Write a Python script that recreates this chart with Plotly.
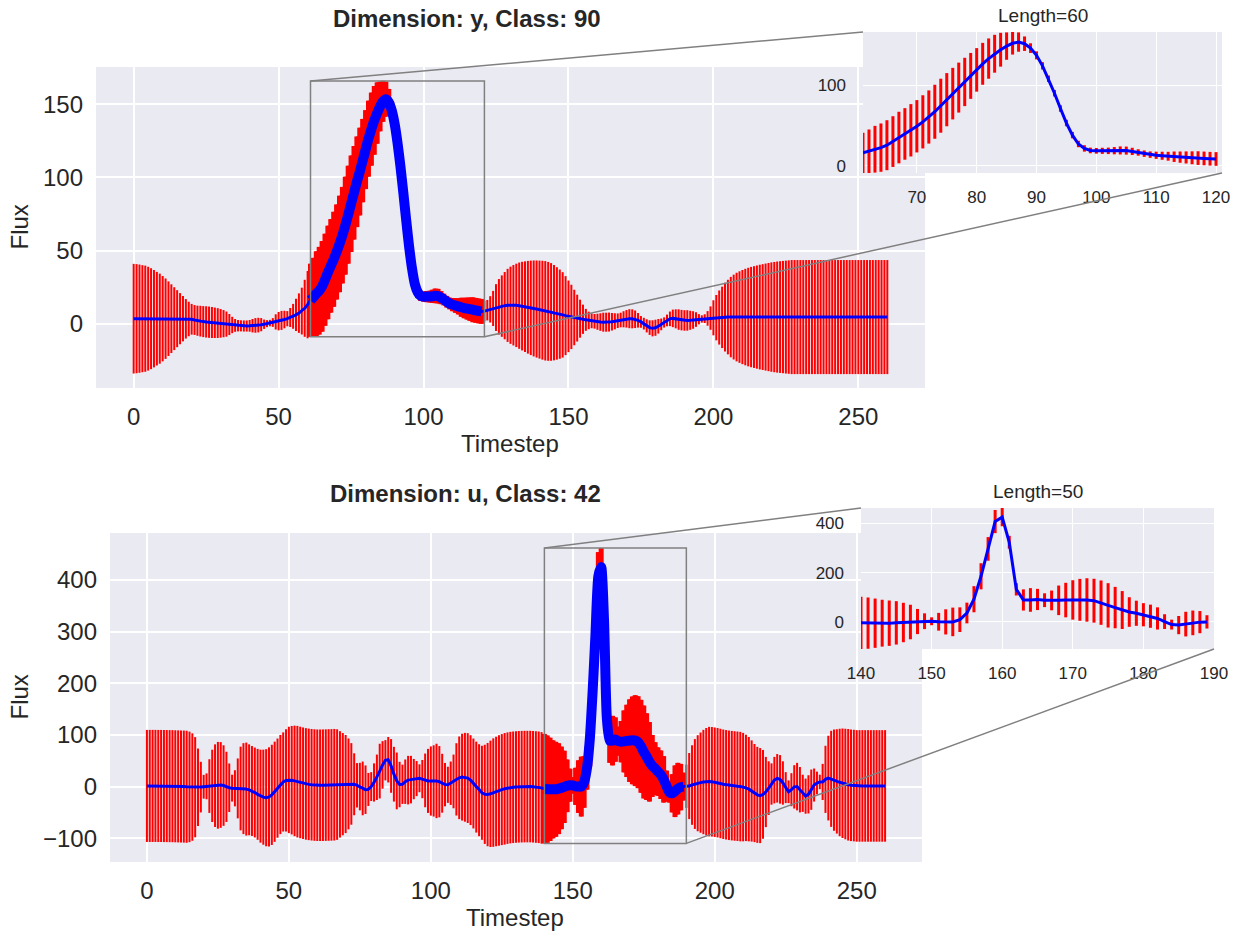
import plotly.graph_objects as go

W, H = 1247, 934
FONT = "Liberation Sans, Arial, sans-serif"
TXT = "#262626"
BG = "#EAEAF2"

timesteps = list(range(261))

flux_y = [
    3.4, 3.4, 3.4, 3.4, 3.4, 3.4, 3.4, 3.4, 3.4, 3.4, 3.4, 3.4, 3.4, 3.4, 3.4, 3.4, 3.4, 3.4, 3.3, 3.2,
    3.0, 2.5, 2.0, 1.7, 1.4, 1.2, 1.0, 0.8, 0.6, 0.4, 0.2, 0.0, -0.3, -0.6, -0.9, -1.2, -1.4, -1.5, -1.6, -1.6,
    -1.5, -1.4, -1.2, -1.0, -0.7, -0.4, 0.0, 0.4, 0.8, 1.2, 1.7, 2.2, 2.8, 3.4, 4.2, 5.0, 6.0, 7.2, 8.6, 10.5,
    13.0,
    16, 18, 20.5, 22.5, 25.5, 30, 35, 39.5, 44, 49, 54.5, 60.5, 67, 74.5, 82, 89.5, 97, 104, 111.5, 119,
    126.5, 133, 139, 144, 148.5, 152, 153.5, 151.5, 146, 137, 124, 108, 90, 71, 53, 38, 27, 21.5, 19, 18.5,
    18.5, 18.5, 18.7, 19.0, 18.8, 17.8, 16.5, 15, 13.8, 13, 12.4, 11.8, 11.2, 10.7, 10.3, 9.9, 9.5, 9.1, 8.7, 8.4,
    8.6, 9.2, 9.8, 10.4, 11, 11.5, 12, 12.3, 12.5, 12.6, 12.6, 12.5, 12.3, 12, 11.6, 11.2, 10.8, 10.4, 10, 9.6,
    9.2, 8.8, 8.4, 8, 7.5, 7, 6.5, 6, 5.5, 5, 4.6, 4.2, 3.8, 3.4, 3, 2.6, 2.2, 1.9, 1.6, 1.3,
    1.1, 1.0, 1.0, 1.1, 1.3, 1.6, 2.0, 2.5, 3.0, 3.3, 3.4, 3.3, 3.0, 2.3, 1.2, 0, -1.5, -2.7, -3.2, -2.8,
    -1.8, -0.5, 0.8, 2.2, 3.3, 3.6, 3.3, 2.8, 2.4, 2.2, 2.2, 2.3, 2.5, 2.8, 3.0, 3.2, 3.4, 3.6, 3.8, 4.0,
    4.1, 4.2, 4.3, 4.4, 4.5, 4.5, 4.5, 4.5, 4.5, 4.5, 4.5, 4.5, 4.5, 4.5, 4.5, 4.5, 4.5, 4.5, 4.5, 4.5,
    4.5, 4.5, 4.5, 4.5, 4.5, 4.5, 4.5, 4.5, 4.5, 4.5, 4.5, 4.5, 4.5, 4.5, 4.5, 4.5, 4.5, 4.5, 4.5, 4.5,
    4.5, 4.5, 4.5, 4.5, 4.5, 4.5, 4.5, 4.5, 4.5, 4.5, 4.5, 4.5, 4.5, 4.5, 4.5, 4.5, 4.5, 4.5, 4.5, 4.5,
]

err_y = [
    37.5, 37.3, 37.0, 36.6, 36.3, 35.5, 34.5, 33.3, 32.0, 30.8, 29.2, 27.5, 25.5, 23.5, 21.5, 19.5, 17.5, 15.5, 13.5, 11.8,
    10.5, 10.2, 10.3, 10.5, 10.6, 10.7, 10.7, 10.6, 10.4, 10.2, 9.8, 9.3, 8.6, 7.2, 5.6, 4.4, 3.9, 3.8, 3.8, 3.8,
    4.0, 4.6, 5.0, 5.0, 4.5, 3.2, 2.4, 2.2, 3.0, 5.2, 6.3, 6.5, 6.0, 5.2, 6.5, 8.5, 11.0, 13.5, 16.0, 19.5,
    23.0,
    25, 27, 29, 30, 31, 31.5, 32, 32, 32.5, 32.5, 33, 33, 33.5, 33.5, 33, 32, 31, 30, 28.5, 27,
    26, 25, 23.5, 21, 17, 14, 12, 9, 6, 5, 4.5, 4, 4, 4, 4, 4, 4, 4, 3.5, 3.5,
    3.8, 4, 4.5, 5, 5, 4.5, 4, 4, 4, 4.5, 5, 5.5, 6.5, 7, 7.5, 8, 8.5, 8.5, 8.5, 8.5,
    7, 7, 9, 12, 16, 19, 21, 23, 25, 26.4, 27.5, 28.5, 29.5, 30.3, 31, 31.7, 32.3, 32.8, 33.2, 33.5,
    33.8, 34, 33.8, 33.4, 32.6, 31.6, 30.5, 29.2, 27, 24.5, 22, 19, 16, 13, 10, 7.5, 6, 5, 5, 5.5,
    6, 6.5, 6.5, 6.5, 6, 5.5, 5, 5, 5.5, 6, 6.5, 6.5, 6, 5, 4, 4, 4.5, 5, 5.5, 5.5,
    5, 4, 3.5, 4, 5, 6, 6.5, 7, 7, 7, 7, 6.5, 6, 5, 3.5, 2.5, 3, 5, 8, 12,
    15.5, 18.5, 21, 23.5, 25.5, 27.5, 29, 30.3, 31.3, 32.2, 33, 33.7, 34.3, 34.8, 35.3, 35.8, 36.2, 36.6, 37, 37.4,
    37.7, 38, 38.2, 38.4, 38.6, 38.8, 39, 39, 39, 39, 39, 39, 39, 39, 39, 39, 39, 39, 39, 39,
    39, 39, 39, 39, 39, 39, 39, 39, 39, 39, 39, 39, 39, 39, 39, 39, 39, 39, 39, 39,
]

flux_u = [
    1.3, 1.3, 1.3, 1.3, 1.2, 1.2, 1.1, 1.0, 0.9, 0.8, 0.6, 0.4, 0.2, 0.0, -0.3, -0.6, -0.9, -1.2, -1.3, -1.0,
    -0.3, 0.5, 1.0, 1.4, 1.8, 2.5, 3.2, 2.0, -0.5, -2.2, -3.0, -3.3, -3.5, -3.7, -3.9, -4.8, -6.2, -8.5, -11.5, -15,
    -18.5, -20.5, -21.5, -20, -16, -10, -3, 4, 9, 12, 12.9, 12.4, 11, 9.5, 8, 6.5, 5.2, 4.3, 3.6, 3.0,
    2.6, 2.6, 2.7, 2.9, 3.1, 3.3, 3.6, 3.9, 4.3, 4.7, 5.0, 5.2, 5.2, 4.5, 2.5, 0, -3.5, -6, -5.5, 0,
    8, 18, 30, 42, 51, 52, 40, 24, 11, 4, 4.5, 9.5, 12.5, 13.5, 14.5, 15.5, 16.1, 14.5, 12, 11,
    10.8, 11, 11, 9.5, 6.5, 3.8, 3.5, 6.5, 10, 14, 17, 18.3, 18, 16.5, 12.5, 6, -1, -7, -12, -15,
    -15.5, -14, -11.6, -9.5, -7.5, -5.8, -4.3, -3, -2, -1.3, -0.8, -0.4, -0.2, 0, 0, 0, -0.3, -0.8, -1.3, -2.5,
    -4, -5, -5.3, -5.3, -5.3, -4, -2.5, -0.5, 1.5, 2.7, 2.5, 0.5, 0, 0, 9, 36, 92, 185, 296, 407,
    425, 323, 132, 89, 89, 91, 88, 87, 87.5, 88.5, 89, 89.5, 89, 86, 78, 67, 58, 48, 40, 35,
    29, 23, 14, 1, -11, -13, -9, -4, -1, 0,
    0.5, 1, 3, 5, 6.5, 7.7, 8.8, 9.5, 9.7, 9.3,
    8.5, 7.5, 6, 4.5, 3.5, 2.5, 1.8, 1.2, 0.6, 0, -1, -2.5, -5, -8.5, -12.5, -16, -17.4, -15, -10.5, -3,
    5, 12.5, 16, 14, 7, -2, -10, -6, -0.5, 0, -6, -13, -18.5, -15, -6, 3, 7, 9, 9, 14,
    16.5, 15, 12.5, 10, 8, 6.5, 5, 3.5, 2.5, 2, 1.3, 1.3, 1.3, 1.3, 1.3, 1.3, 1.3, 1.3, 1.3, 1.3,
    1.3,
]

err_u = [
    108.5, 108.5, 108.5, 108.5, 108.5, 108.5, 108.5, 108.5, 108.5, 108.5, 108.5, 108.5, 108.5, 108.5, 108.5, 107, 104, 97, 75, 49,
    23, 25, 52, 70, 80, 84, 83, 78, 68, 47, 26, 35, 58, 81, 88, 90, 88, 87, 87, 88,
    90, 92, 94, 96, 97, 97, 96, 96, 96, 99, 103, 105, 107, 108, 108, 108, 108, 108, 108, 108,
    108, 108, 108, 108, 108, 108, 108, 107, 103, 99, 95, 88, 79, 60, 43, 46, 52, 47, 32, 28,
    37, 44, 53, 46, 39, 44, 52, 53, 55, 44, 38, 43, 47, 46, 39, 34, 27, 37, 52, 62,
    67, 69, 72, 69, 57, 42, 35, 42, 52, 70, 80, 84, 86, 87, 87, 87, 88, 89, 91, 96,
    100, 103, 105, 106, 107, 107.5, 108, 108, 108, 108, 108, 108, 108, 108, 108, 108, 108, 108, 108, 108,
    106, 104, 100, 95, 92, 88, 80, 70, 51, 32, 16, 36, 51, 58, 50, 42, 53, 53, 48, 47,
    37, 26, 25, 43, 48, 43, 28, 40, 60, 70, 80, 85, 88, 89, 90, 90, 84, 77, 60, 51,
    47, 47, 45, 30, 20, 37, 50, 50, 45, 27,
    42, 64, 77, 87, 93, 97, 101, 104, 106, 106,
    106, 106, 106, 106, 106, 106, 106, 106, 106, 106, 105, 103, 101, 98, 95, 93, 92, 86, 68, 52,
    40, 45, 47, 47, 42, 30, 22, 32, 42, 46, 44, 36, 34, 37, 39, 32, 22, 14, 35, 65,
    82, 93, 98, 101, 104, 106, 107, 108, 108, 108, 108, 108, 108, 108, 108, 108, 108, 108, 108, 108,
    108,
]

for arr in (flux_y, err_y, flux_u, err_u):
    assert len(arr) == len(timesteps), len(arr)

panels = [
    dict(dim="y", cls=90, flux=flux_y, err=err_y, start=61, length=60,
         main=(96, 925, 67, 388), inset=(863, 1222, 32, 173),
         yrange=[-44, 175.5], yticks=[0, 50, 100, 150],
         ixticks=[70, 80, 90, 100, 110, 120], iyticks=[0, 100],
         title_xy=(467, 18), ititle_y=15, xlabel_y=443, xlabel_x=510, ylabel_x=19),
    dict(dim="u", cls=42, flux=flux_u, err=err_u, start=140, length=50,
         main=(110, 922, 533, 862), inset=(861, 1214, 508, 649),
         yrange=[-146, 491], yticks=[-100, 0, 100, 200, 300, 400],
         ixticks=[140, 150, 160, 170, 180, 190], iyticks=[0, 200, 400],
         title_xy=(465, 493), ititle_y=491, xlabel_y=917, xlabel_x=515, ylabel_x=19),
]

XRANGE = [-13, 273]
MAIN_XTICKS = [0, 50, 100, 150, 200, 250]

fig = go.Figure()
layout = dict(width=W, height=H, margin=dict(l=0, r=0, t=0, b=0, autoexpand=False),
              paper_bgcolor="white", plot_bgcolor=BG, showlegend=False,
              font=dict(family=FONT, color=TXT))
shapes, annotations = [], []


def xdom(x0, x1):
    return [x0 / W, x1 / W]


def ydom(y0, y1):
    return [1 - y1 / H, 1 - y0 / H]


def to_paper(v, rng, dom):
    return dom[0] + (v - rng[0]) / (rng[1] - rng[0]) * (dom[1] - dom[0])


def ax_style(size, standoff):
    return dict(showgrid=True, gridcolor="white", zeroline=False, showline=False,
                ticks="", automargin=False,
                tickfont=dict(size=size, color=TXT, family=FONT),
                ticklabelstandoff=standoff)


for i, p in enumerate(panels):
    mx, my, ix, iy = 2 * i + 1, 2 * i + 1, 2 * i + 2, 2 * i + 2
    mxa = "x" if mx == 1 else f"x{mx}"
    mya = "y" if my == 1 else f"y{my}"
    ixa, iya = f"x{ix}", f"y{iy}"

    s, n = p["start"], p["length"]
    rx = timesteps[s:s + n]
    rf = p["flux"][s:s + n]
    re_ = p["err"][s:s + n]
    lo = min(f - e for f, e in zip(rf, re_))
    hi = max(f + e for f, e in zip(rf, re_))

    # main: thin error bars over all timesteps
    fig.add_trace(go.Scatter(x=timesteps, y=p["flux"], mode="markers",
                             marker=dict(size=2, opacity=0),
                             error_y=dict(type="data", array=p["err"], color="red",
                                          thickness=2, width=0),
                             xaxis=mxa, yaxis=mya, hoverinfo="skip"))
    # main: thick error bars for highlighted window
    fig.add_trace(go.Scatter(x=rx, y=rf, mode="markers", marker=dict(size=2, opacity=0),
                             error_y=dict(type="data", array=re_, color="red",
                                          thickness=5, width=0),
                             xaxis=mxa, yaxis=mya, hoverinfo="skip"))
    fig.add_trace(go.Scatter(x=timesteps, y=p["flux"], mode="lines",
                             line=dict(color="blue", width=3), xaxis=mxa, yaxis=mya))
    fig.add_trace(go.Scatter(x=rx, y=rf, mode="lines",
                             line=dict(color="blue", width=10, shape="spline", smoothing=0.6),
                             xaxis=mxa, yaxis=mya))
    # inset
    fig.add_trace(go.Scatter(x=rx, y=rf, mode="markers", marker=dict(size=2, opacity=0),
                             error_y=dict(type="data", array=re_, color="red",
                                          thickness=3, width=0),
                             xaxis=ixa, yaxis=iya, hoverinfo="skip"))
    fig.add_trace(go.Scatter(x=rx, y=rf, mode="lines",
                             line=dict(color="blue", width=3), xaxis=ixa, yaxis=iya))

    m_xd = xdom(p["main"][0], p["main"][1])
    m_yd = ydom(p["main"][2], p["main"][3])
    i_xd = xdom(p["inset"][0], p["inset"][1])
    i_yd = ydom(p["inset"][2], p["inset"][3])
    i_xr = [s, s + n]
    i_yr = [lo, hi]

    layout[f"xaxis{'' if mx == 1 else mx}"] = dict(
        domain=m_xd, range=XRANGE, tickvals=MAIN_XTICKS, anchor=mya,
        gridwidth=1.6, **ax_style(24, 12))
    layout[f"yaxis{'' if my == 1 else my}"] = dict(
        domain=m_yd, range=p["yrange"], tickvals=p["yticks"], anchor=mxa,
        gridwidth=1.6, **ax_style(24, 12))
    layout[f"xaxis{ix}"] = dict(domain=i_xd, range=i_xr, tickvals=p["ixticks"],
                                anchor=iya, gridwidth=1.3, **ax_style(17, 12))
    layout[f"yaxis{iy}"] = dict(domain=i_yd, range=i_yr, tickvals=p["iyticks"],
                                anchor=ixa, gridwidth=1.3, **ax_style(17, 16))

    grey = dict(color="#808080", width=1.5)
    shapes.append(dict(type="rect", xref=mxa, yref=mya, x0=s, x1=s + n, y0=lo, y1=hi,
                       line=grey, layer="above"))
    # connectors from the highlighted window to the inset corners
    rx0 = to_paper(s, XRANGE, m_xd)
    rx1 = to_paper(s + n, XRANGE, m_xd)
    ry0 = to_paper(lo, p["yrange"], m_yd)
    ry1 = to_paper(hi, p["yrange"], m_yd)
    shapes.append(dict(type="line", xref="paper", yref="paper",
                       x0=rx0, y0=ry1, x1=i_xd[0], y1=i_yd[1], line=grey, layer="above"))
    shapes.append(dict(type="line", xref="paper", yref="paper",
                       x0=rx1, y0=ry0, x1=i_xd[1], y1=i_yd[0], line=grey, layer="above"))

    annotations.append(dict(text=f"<b>Dimension: {p['dim']}, Class: {p['cls']}</b>",
                            xref="paper", yref="paper",
                            x=p["title_xy"][0] / W, y=1 - p["title_xy"][1] / H,
                            xanchor="center", yanchor="middle", showarrow=False,
                            font=dict(size=24, color=TXT, family=FONT)))
    annotations.append(dict(text=f"Length={n}", xref="paper", yref="paper",
                            x=(i_xd[0] + i_xd[1]) / 2, y=1 - p["ititle_y"] / H,
                            xanchor="center", yanchor="middle", showarrow=False,
                            font=dict(size=19, color=TXT, family=FONT)))
    annotations.append(dict(text="Timestep", xref="paper", yref="paper",
                            x=p["xlabel_x"] / W, y=1 - p["xlabel_y"] / H,
                            xanchor="center", yanchor="middle", showarrow=False,
                            font=dict(size=24, color=TXT, family=FONT)))
    annotations.append(dict(text="Flux", xref="paper", yref="paper", textangle=-90,
                            x=p["ylabel_x"] / W, y=(m_yd[0] + m_yd[1]) / 2,
                            xanchor="center", yanchor="middle", showarrow=False,
                            font=dict(size=24, color=TXT, family=FONT)))

layout["shapes"] = shapes
layout["annotations"] = annotations
fig.update_layout(**layout)

fig.write_html("out.html", config={"displayModeBar": False},
               post_script="document.body.style.margin='0';")
